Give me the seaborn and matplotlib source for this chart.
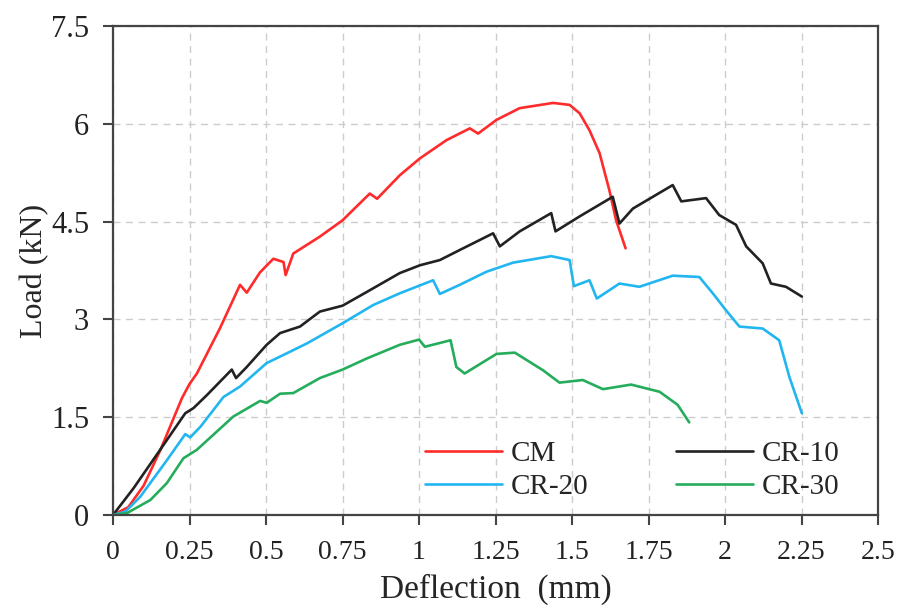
import matplotlib
matplotlib.use("Agg")
import matplotlib.pyplot as plt
import seaborn as sns
import pandas as pd
from matplotlib.lines import Line2D

# ---- data ----
cm_x = [0, 0.05, 0.10, 0.155, 0.225, 0.25, 0.274, 0.35, 0.415, 0.437,
        0.48, 0.524, 0.557, 0.564, 0.589, 0.676, 0.75, 0.839, 0.863, 0.937,
        1.003, 1.09, 1.166, 1.193, 1.253, 1.329, 1.438, 1.492, 1.525, 1.557,
        1.59, 1.622, 1.644, 1.675]
cm_y = [0, 0.12, 0.45, 1.0, 1.79, 2.01, 2.17, 2.87, 3.53, 3.41,
        3.72, 3.93, 3.88, 3.68, 4.01, 4.27, 4.52, 4.93, 4.85, 5.21,
        5.47, 5.75, 5.93, 5.85, 6.06, 6.24, 6.32, 6.29, 6.16, 5.90,
        5.55, 4.98, 4.52, 4.09]

cr10_x = [0, 0.067, 0.154, 0.236, 0.263, 0.307, 0.388, 0.402, 0.437, 0.502,
          0.546, 0.611, 0.676, 0.75, 0.829, 0.937, 1.003, 1.068, 1.144, 1.242,
          1.264, 1.329, 1.432, 1.446, 1.525, 1.633, 1.655, 1.699, 1.829, 1.857,
          1.938, 1.981, 2.036, 2.069, 2.123, 2.15, 2.199, 2.251]
cr10_y = [0, 0.41, 1.0, 1.56, 1.64, 1.84, 2.23, 2.10, 2.27, 2.61,
          2.79, 2.89, 3.12, 3.21, 3.42, 3.71, 3.83, 3.91, 4.09, 4.32,
          4.12, 4.35, 4.63, 4.35, 4.58, 4.88, 4.47, 4.70, 5.06, 4.81,
          4.86, 4.60, 4.45, 4.12, 3.86, 3.55, 3.50, 3.35]

cr20_x = [0, 0.04, 0.089, 0.176, 0.236, 0.252, 0.285, 0.361, 0.415, 0.502,
          0.568, 0.633, 0.75, 0.85, 0.937, 1.046, 1.068, 1.133, 1.22, 1.307,
          1.432, 1.492, 1.506, 1.557, 1.581, 1.655, 1.72, 1.829, 1.916, 1.96,
          2.003, 2.047, 2.123, 2.177, 2.21, 2.251]
cr20_y = [0, 0.05, 0.28, 0.84, 1.24, 1.19, 1.35, 1.81, 1.97, 2.33,
          2.48, 2.63, 2.94, 3.22, 3.40, 3.60, 3.39, 3.53, 3.73, 3.87,
          3.97, 3.91, 3.51, 3.60, 3.32, 3.55, 3.50, 3.67, 3.65, 3.40,
          3.14, 2.89, 2.86, 2.68, 2.12, 1.56]

cr30_x = [0, 0.046, 0.122, 0.176, 0.23, 0.274, 0.393, 0.481, 0.502, 0.546,
          0.589, 0.676, 0.75, 0.829, 0.937, 1.0, 1.019, 1.103, 1.122, 1.149,
          1.253, 1.313, 1.405, 1.459, 1.535, 1.601, 1.693, 1.786, 1.845, 1.883]
cr30_y = [0, 0.03, 0.23, 0.49, 0.87, 1.0, 1.51, 1.75, 1.72, 1.86,
          1.87, 2.10, 2.23, 2.40, 2.61, 2.69, 2.58, 2.68, 2.27, 2.17,
          2.47, 2.49, 2.22, 2.03, 2.07, 1.93, 2.00, 1.89, 1.69, 1.42]

series_names = ["CM", "CR-10", "CR-20", "CR-30"]
x_ticks = [0, 0.25, 0.5, 0.75, 1, 1.25, 1.5, 1.75, 2, 2.25, 2.5]
x_tick_labels = ["0", "0.25", "0.5", "0.75", "1", "1.25", "1.5", "1.75", "2", "2.25", "2.5"]
y_ticks = [0, 1.5, 3, 4.5, 6, 7.5]
y_tick_labels = ["0", "1.5", "3", "4.5", "6", "7.5"]

colors = {"CM": "#ff2b2b", "CR-10": "#222222", "CR-20": "#22b6f0", "CR-30": "#25ad5c"}

frames = []
for name, xs, ys in zip(series_names, [cm_x, cr10_x, cr20_x, cr30_x],
                        [cm_y, cr10_y, cr20_y, cr30_y]):
    frames.append(pd.DataFrame({"Deflection": xs, "Load": ys, "Series": name}))
df = pd.concat(frames, ignore_index=True)

sns.set_style("white")
plt.rcParams["font.family"] = ["Liberation Serif", "DejaVu Serif"]

fig = plt.figure(figsize=(9, 6.13), dpi=100)
ax = fig.add_axes([0.1256, 0.1599, 0.85, 0.7977])

sns.lineplot(data=df, x="Deflection", y="Load", hue="Series", palette=colors,
             sort=False, estimator=None, units="Series", linewidth=1.9,
             legend=False, ax=ax)

ax.set_xlim(0, 2.5)
ax.set_ylim(0, 7.5)
ax.set_xticks(x_ticks)
ax.set_xticklabels(x_tick_labels, fontsize=20)
ax.set_yticks(y_ticks)
ax.set_yticklabels(y_tick_labels, fontsize=22)
ax.set_xlabel("Deflection  (mm)", fontsize=24, labelpad=6)
ax.set_ylabel("Load (kN)", fontsize=23, labelpad=1)

ax.grid(True, linestyle=(0, (5, 4)), color="#cccccc", linewidth=1.0)
for s in ax.spines.values():
    s.set_color("#444444")
    s.set_linewidth(1.6)
    s.set_visible(True)
ax.tick_params(axis="both", direction="out", length=7.2, width=1.5,
               color="#444444", labelcolor="#222222",
               bottom=True, left=True)
ax.tick_params(axis="x", pad=11)
ax.tick_params(axis="y", pad=10)

handles = [Line2D([], [], color=colors[n], linewidth=1.9) for n in ["CM", "CR-20", "CR-10", "CR-30"]]
labels = ["CM", "CR-20", "CR-10", "CR-30"]
ax.legend(handles, labels, ncol=2, loc="lower left", bbox_to_anchor=(0.408, 0.03),
          frameon=False, fontsize=21, handlelength=2.64, handletextpad=0.3,
          columnspacing=3.0, labelspacing=0.22, borderpad=0, borderaxespad=0)

fig.savefig("out.png", dpi=100, facecolor="white")
